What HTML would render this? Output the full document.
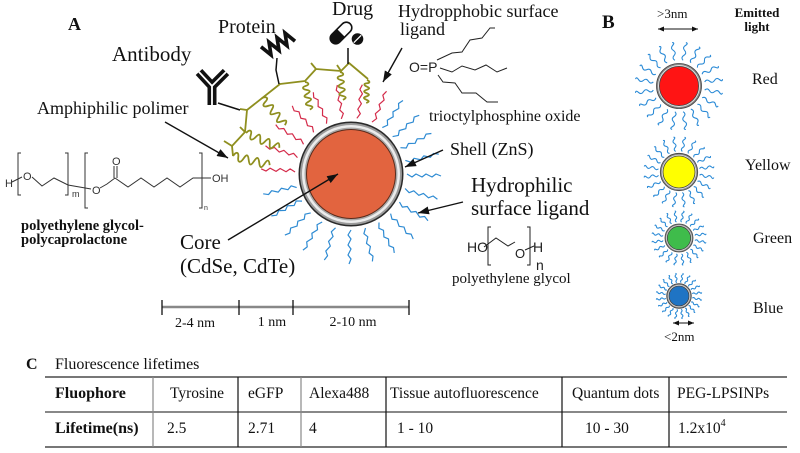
<!DOCTYPE html>
<html>
<head>
<meta charset="utf-8">
<style>
html,body{margin:0;padding:0;background:#fff;}
svg{display:block;}
</style>
</head>
<body>
<svg width="800" height="453" viewBox="0 0 800 453" xmlns="http://www.w3.org/2000/svg" xmlns:xlink="http://www.w3.org/1999/xlink">
<rect width="800" height="453" fill="#fff"/>
<defs>
  <path id="lig" d="M0,0 l5,3 l4,-3 l6,3 l4,-3 l6,3 l4,-3 l5,2" fill="none" stroke-linejoin="round"/>
  <path id="coil" d="M0,0 c1.5,-4 3.5,-4 4,0 s2.5,4 4,0 s2.5,-4 4,0 s2.5,4 4,0 s2.5,-4 4,0 s2.5,4 4,0 s2.5,-4 4,0" fill="none" vector-effect="non-scaling-stroke"/>
  <path id="sl" d="M0,0 q2.5,-3 5,0 t5,0 t5,0 t3,0" fill="none" vector-effect="non-scaling-stroke"/>
  <g id="ring">
    <use href="#sl" transform="rotate(9) translate(26,0)"/>
    <use href="#sl" transform="rotate(27) translate(26,0)"/>
    <use href="#sl" transform="rotate(45) translate(26,0)"/>
    <use href="#sl" transform="rotate(63) translate(26,0)"/>
    <use href="#sl" transform="rotate(81) translate(26,0)"/>
    <use href="#sl" transform="rotate(99) translate(26,0)"/>
    <use href="#sl" transform="rotate(117) translate(26,0)"/>
    <use href="#sl" transform="rotate(135) translate(26,0)"/>
    <use href="#sl" transform="rotate(153) translate(26,0)"/>
    <use href="#sl" transform="rotate(171) translate(26,0)"/>
    <use href="#sl" transform="rotate(189) translate(26,0)"/>
    <use href="#sl" transform="rotate(207) translate(26,0)"/>
    <use href="#sl" transform="rotate(225) translate(26,0)"/>
    <use href="#sl" transform="rotate(243) translate(26,0)"/>
    <use href="#sl" transform="rotate(261) translate(26,0)"/>
    <use href="#sl" transform="rotate(279) translate(26,0)"/>
    <use href="#sl" transform="rotate(297) translate(26,0)"/>
    <use href="#sl" transform="rotate(315) translate(26,0)"/>
    <use href="#sl" transform="rotate(333) translate(26,0)"/>
    <use href="#sl" transform="rotate(351) translate(26,0)"/>
  </g>
  <marker id="ah" markerWidth="11" markerHeight="8" refX="11" refY="4" orient="auto" markerUnits="userSpaceOnUse">
    <path d="M0,0 L11,4 L0,8 z" fill="#111"/>
  </marker>
  <marker id="ah2" markerWidth="6" markerHeight="5" refX="6" refY="2.5" orient="auto-start-reverse" markerUnits="userSpaceOnUse">
    <path d="M0,0 L6,2.5 L0,5 z" fill="#111"/>
  </marker>
</defs>

<!-- ===== Panel A: ligands ===== -->
<g transform="translate(351,174)" fill="none" stroke-width="1.2">
  <g stroke="#d42b4a">
    <use href="#lig" transform="rotate(-68) translate(56,0)"/>
    <use href="#lig" transform="rotate(-84) translate(56,0)"/>
    <use href="#lig" transform="rotate(-100) translate(56,0)"/>
    <use href="#lig" transform="rotate(-116) translate(56,0)"/>
    <use href="#lig" transform="rotate(-132) translate(56,0)"/>
    <use href="#lig" transform="rotate(-148) translate(56,0)"/>
    <use href="#lig" transform="rotate(-163) translate(56,0)"/>
    <use href="#lig" transform="rotate(-178) translate(56,0)"/>
  </g>
  <g stroke="#2e8bd3">
    <use href="#lig" transform="rotate(-194) translate(56,0)"/>
    <use href="#lig" transform="rotate(-209) translate(56,0)"/>
    <use href="#lig" transform="rotate(-224) translate(56,0)"/>
    <use href="#lig" transform="rotate(-239) translate(56,0)"/>
    <use href="#lig" transform="rotate(-254) translate(56,0)"/>
    <use href="#lig" transform="rotate(-270) translate(56,0)"/>
    <use href="#lig" transform="rotate(-285) translate(56,0)"/>
    <use href="#lig" transform="rotate(-300) translate(56,0)"/>
    <use href="#lig" transform="rotate(-315) translate(56,0)"/>
    <use href="#lig" transform="rotate(-330) translate(56,0)"/>
    <use href="#lig" transform="rotate(-345) translate(56,0)"/>
    <use href="#lig" transform="rotate(0) translate(56,0)"/>
    <use href="#lig" transform="rotate(-14) translate(56,0)"/>
    <use href="#lig" transform="rotate(-28) translate(56,0)"/>
    <use href="#lig" transform="rotate(-42) translate(56,0)"/>
    <use href="#lig" transform="rotate(-56) translate(56,0)"/>
  </g>
</g>

<!-- olive polymer -->
<g stroke="#8f8f1f" stroke-width="1.8" fill="none" stroke-linejoin="round">
  <path d="M247,110 L280,84 L305,81 L316,69 L341,71 L349,63 L368,79 M316,69 L311,63 M341,71 L337,65 M247,110 L245,132 L232,146 L233,156 M232,146 L224,141 M245,132 L240,127 M247,110 L240,109"/>
  <use href="#coil" transform="translate(305,82) rotate(80)"/>
  <use href="#coil" transform="translate(340,72) rotate(84)"/>
  <use href="#coil" transform="translate(367,80) rotate(92) scale(0.82)"/>
  <use href="#coil" transform="translate(262,98) rotate(50) scale(1.27)"/>
  <use href="#coil" transform="translate(246,133) rotate(24) scale(1.3)"/>
  <use href="#coil" transform="translate(233,156) rotate(14) scale(1.35)"/>
</g>

<!-- antibody -->
<g fill="none" stroke-linecap="butt" stroke-linejoin="miter">
  <path d="M212,105 L212,86 M212,86 L199,72 M212,86 L226,72" stroke="#111" stroke-width="9"/>
  <path d="M212,105 L212,86 M212,86 L199,72 M212,86 L226,72" stroke="#fff" stroke-width="1.8"/>
  <path d="M218,103 L240,110" stroke="#111" stroke-width="1.5"/>
</g>
<!-- protein -->
<polyline points="261,46.8 271,54.9 269,42.2 279,50.3 277,37.6 287,45.7 285,33 295,41.2" fill="none" stroke="#111" stroke-width="3.6" stroke-linejoin="miter"/>
<path d="M277,58 L276,70 L279,84" fill="none" stroke="#111" stroke-width="1.5"/>
<!-- drug -->
<g transform="translate(341,33) rotate(-45)">
  <rect x="-13" y="-5.5" width="26" height="11" rx="5.5" fill="#fff" stroke="#111" stroke-width="1.6"/>
  <path d="M0,-5.5 L-7.5,-5.5 A5.5,5.5 0 0 0 -7.5,5.5 L0,5.5 z" fill="#111"/>
</g>
<circle cx="357.5" cy="39" r="5.8" fill="#111"/>
<line x1="353.8" y1="42.7" x2="361.2" y2="35.3" stroke="#fff" stroke-width="1.3"/>
<line x1="348" y1="48" x2="348" y2="64" stroke="#111" stroke-width="1.5"/>

<!-- quantum dot -->
<circle cx="351" cy="174" r="52.5" fill="#2a2a2a"/>
<circle cx="351" cy="174" r="51" fill="#9a9a9a"/>
<circle cx="351" cy="174" r="49" fill="#ececec"/>
<circle cx="351" cy="174" r="46.5" fill="#a8a8a8"/>
<circle cx="351" cy="174" r="45" fill="#5a2a1a"/>
<circle cx="351" cy="174" r="44" fill="#e2643f"/>

<!-- arrows -->
<g stroke="#111" stroke-width="1.4" fill="none">
  <line x1="165" y1="122" x2="228" y2="158" marker-end="url(#ah)"/>
  <line x1="228" y1="240" x2="338" y2="174" marker-end="url(#ah)"/>
  <line x1="402" y1="48" x2="383" y2="82" marker-end="url(#ah)"/>
  <line x1="443" y1="150" x2="405" y2="167" marker-end="url(#ah)"/>
  <line x1="463" y1="202" x2="418" y2="213" marker-end="url(#ah)"/>
</g>

<!-- TOPO structure -->
<g stroke="#222" stroke-width="1" fill="none">
  <path d="M437,60 L452,53 L462,52 L470,40 L482,38 L490,28 L495,28"/>
  <path d="M440,68 L452,72 L462,66 L475,70 L486,65 L497,72 L507,68"/>
  <path d="M438,75 L443,82 L455,83 L462,93 L476,93 L487,102 L498,102"/>
</g>
<text x="409" y="72" font-family="Liberation Sans, sans-serif" font-size="14" fill="#222">O=P</text>

<!-- PEG structure (right) -->
<g stroke="#222" stroke-width="1" fill="none">
  <path d="M491,227 L488,227 L488,265 L491,265 M527,227 L530,227 L530,265 L527,265"/>
  <path d="M484,247 L496,238 L508,246 L515,242 M525,250 L534,246"/>
</g>
<g font-family="Liberation Sans, sans-serif" fill="#222">
  <text x="467" y="252" font-size="14">HO</text>
  <text x="515" y="258" font-size="13">O</text>
  <text x="533" y="252" font-size="14">H</text>
  <text x="536" y="270" font-size="14">n</text>
</g>

<!-- PEG-PCL structure (left) -->
<g stroke="#333" stroke-width="1" fill="none">
  <path d="M21,153 L18,153 L18,195 L21,195 M65,153 L68,153 L68,195 L65,195"/>
  <path d="M88,153 L85,153 L85,208 L88,208 M199,153 L202,153 L202,208 L199,208"/>
  <path d="M12,182 L22,177 M32,177 L42,186 L54,178 L68,185 L91,189"/>
  <path d="M100,188 L107,184 L115,178 M114,178 L114,166 M117,178 L117,166"/>
  <path d="M115,178 L128,187 L141,178 L154,187 L167,178 L180,187 L193,178 L211,178"/>
</g>
<g font-family="Liberation Sans, sans-serif" fill="#333" font-size="11">
  <text x="5" y="187">H</text>
  <text x="23" y="180">O</text>
  <text x="72" y="197" font-size="9">m</text>
  <text x="92" y="194">O</text>
  <text x="112" y="165">O</text>
  <text x="212" y="182">OH</text>
  <text x="204" y="210" font-size="7">n</text>
</g>

<!-- Panel A labels -->
<g font-family="'Liberation Serif', serif" fill="#111">
  <text x="68" y="30" font-size="18" font-weight="bold">A</text>
  <text x="218" y="33" font-size="20">Protein</text>
  <text x="112" y="61" font-size="21">Antibody</text>
  <text x="37" y="114" font-size="18">Amphiphilic polimer</text>
  <text x="332" y="15" font-size="20">Drug</text>
  <text x="398" y="17" font-size="18">Hydropphobic surface</text>
  <text x="400" y="35" font-size="18">ligand</text>
  <text x="429" y="121" font-size="16">trioctylphosphine oxide</text>
  <text x="450" y="155" font-size="18">Shell (ZnS)</text>
  <text x="471" y="192" font-size="21">Hydrophilic</text>
  <text x="471" y="215" font-size="21">surface ligand</text>
  <text x="452" y="283" font-size="15">polyethylene glycol</text>
  <text x="180" y="249" font-size="21">Core</text>
  <text x="180" y="273" font-size="21">(CdSe, CdTe)</text>
  <text x="21" y="230" font-size="14.5" font-weight="bold">polyethylene glycol-</text>
  <text x="21" y="244" font-size="14.5" font-weight="bold">polycaprolactone</text>
</g>

<!-- scale bar -->
<line x1="162" y1="307" x2="409" y2="307" stroke="#888" stroke-width="2.5"/>
<g stroke="#111" stroke-width="1.3">
  <line x1="162" y1="300" x2="162" y2="315"/>
  <line x1="239" y1="300" x2="239" y2="315"/>
  <line x1="293" y1="300" x2="293" y2="315"/>
  <line x1="409" y1="300" x2="409" y2="315"/>
</g>
<g font-family="'Liberation Serif', serif" fill="#111" font-size="14" text-anchor="middle">
  <text x="195" y="327">2-4 nm</text>
  <text x="272" y="326">1 nm</text>
  <text x="353" y="326">2-10 nm</text>
</g>

<!-- ===== Panel B ===== -->
<g stroke="#2a8ad6" stroke-width="1.1">
  <use href="#ring" transform="translate(679,86)"/>
  <use href="#ring" transform="translate(679,172) scale(0.8)"/>
  <use href="#ring" transform="translate(679,238) scale(0.62)"/>
  <use href="#ring" transform="translate(679,296) scale(0.52)"/>
</g>
<g stroke="#444" stroke-width="0.8">
  <circle cx="679" cy="86" r="22.5" fill="#8a8a8a"/>
  <circle cx="679" cy="86" r="21" fill="#e2e2e2" stroke="none"/>
  <circle cx="679" cy="86" r="19.6" fill="#ff1414"/>
  <circle cx="679" cy="172" r="18.7" fill="#8a8a8a"/>
  <circle cx="679" cy="172" r="17.3" fill="#e2e2e2" stroke="none"/>
  <circle cx="679" cy="172" r="16" fill="#ffff00"/>
  <circle cx="679" cy="238" r="14" fill="#8a8a8a"/>
  <circle cx="679" cy="238" r="12.8" fill="#e2e2e2" stroke="none"/>
  <circle cx="679" cy="238" r="11.7" fill="#3fbc4b"/>
  <circle cx="679" cy="296" r="12.3" fill="#8a8a8a"/>
  <circle cx="679" cy="296" r="11.1" fill="#e2e2e2" stroke="none"/>
  <circle cx="679" cy="296" r="10" fill="#1f74c4"/>
</g>
<g stroke="#111" stroke-width="1">
  <line x1="658" y1="29" x2="698" y2="29" marker-start="url(#ah2)" marker-end="url(#ah2)"/>
  <line x1="673" y1="323" x2="694" y2="323" marker-start="url(#ah2)" marker-end="url(#ah2)"/>
</g>
<g font-family="'Liberation Serif', serif" fill="#111">
  <text x="602" y="28" font-size="19" font-weight="bold">B</text>
  <text x="657" y="18" font-size="13">&gt;3nm</text>
  <text x="757" y="17" font-size="13" font-weight="bold" text-anchor="middle">Emitted</text>
  <text x="757" y="31" font-size="13" font-weight="bold" text-anchor="middle">light</text>
  <text x="752" y="84" font-size="16">Red</text>
  <text x="745" y="170" font-size="16">Yellow</text>
  <text x="753" y="243" font-size="16">Green</text>
  <text x="753" y="313" font-size="16">Blue</text>
  <text x="664" y="341" font-size="13">&lt;2nm</text>
</g>

<!-- ===== Panel C table ===== -->
<g font-family="'Liberation Serif', serif" fill="#111">
  <text x="26" y="369" font-size="16" font-weight="bold">C</text>
  <text x="55" y="369" font-size="16">Fluorescence lifetimes</text>
</g>
<line x1="45" y1="377" x2="787" y2="377" stroke="#777" stroke-width="2"/>
<line x1="45" y1="412" x2="787" y2="412" stroke="#111" stroke-width="1"/>
<line x1="45" y1="447" x2="787" y2="447" stroke="#777" stroke-width="2"/>
<g stroke-width="1.2">
  <line x1="153" y1="377" x2="153" y2="447" stroke="#888"/>
  <line x1="238" y1="377" x2="238" y2="447" stroke="#111"/>
  <line x1="301" y1="377" x2="301" y2="447" stroke="#888"/>
  <line x1="386" y1="377" x2="386" y2="447" stroke="#111"/>
  <line x1="562" y1="377" x2="562" y2="447" stroke="#111"/>
  <line x1="669" y1="377" x2="669" y2="447" stroke="#111"/>
</g>
<g font-family="'Liberation Serif', serif" fill="#111" font-size="15.5">
  <text x="55" y="398" font-size="16" font-weight="bold">Fluophore</text>
  <text x="170" y="398">Tyrosine</text>
  <text x="248" y="398">eGFP</text>
  <text x="309" y="398">Alexa488</text>
  <text x="390" y="398">Tissue autofluorescence</text>
  <text x="572" y="398">Quantum dots</text>
  <text x="677" y="398">PEG-LPSINPs</text>
  <text x="55" y="433" font-size="16" font-weight="bold">Lifetime(ns)</text>
  <text x="167" y="433">2.5</text>
  <text x="248" y="433">2.71</text>
  <text x="309" y="433">4</text>
  <text x="397" y="433">1 - 10</text>
  <text x="585" y="433">10 - 30</text>
  <text x="678" y="433">1.2x10<tspan dy="-7" font-size="10">4</tspan></text>
</g>
</svg>
</body>
</html>
